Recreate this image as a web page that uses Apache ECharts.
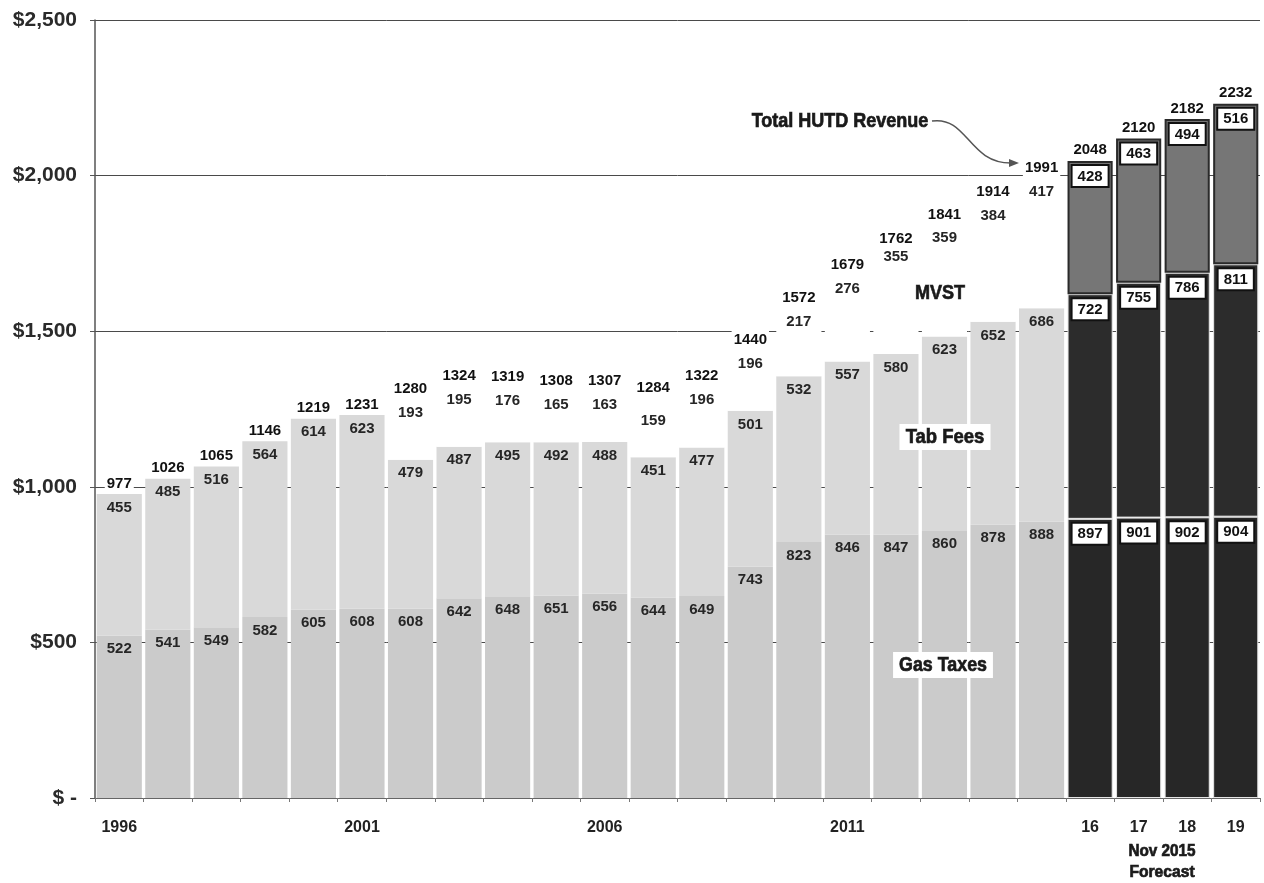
<!DOCTYPE html>
<html>
<head>
<meta charset="utf-8">
<script src="https://cdn.jsdelivr.net/npm/echarts@6/dist/echarts.min.js"></script>
<style>
  html, body { margin: 0; padding: 0; background: #fff; }
  #chart { width: 1264px; height: 883px; }
</style>
</head>
<body>
<div id="chart"></div>
<script>
// Highway User Tax Distribution revenue, $ millions (actuals 1996-2015, forecast 2016-2019)
const years = ['1996','1997','1998','1999','2000','2001','2002','2003','2004','2005','2006','2007',
               '2008','2009','2010','2011','2012','2013','2014','2015','2016','2017','2018','2019'];
const xTickLabels = ['1996','','','','','2001','','','','','2006','','','','','2011','','','','','16','17','18','19'];
const yTickLabels = ['$ -', '$500', '$1,000', '$1,500', '$2,000', '$2,500'];

const gasTaxes = [522, 541, 549, 582, 605, 608, 608, 642, 648, 651, 656, 644,
                  649, 743, 823, 846, 847, 860, 878, 888, 897, 901, 902, 904];
const tabFees  = [455, 485, 516, 564, 614, 623, 479, 487, 495, 492, 488, 451,
                  477, 501, 532, 557, 580, 623, 652, 686, 722, 755, 786, 811];
const mvst     = [null, null, null, null, null, null, 193, 195, 176, 165, 163, 159,
                  196, 196, 217, 276, 355, 359, 384, 417, 428, 463, 494, 516];
const totals   = [977, 1026, 1065, 1146, 1219, 1231, 1280, 1324, 1319, 1308, 1307, 1284,
                  1322, 1440, 1572, 1679, 1762, 1841, 1914, 1991, 2048, 2120, 2182, 2232];

const FORECAST_FROM = 20; // index of the first forecast year

const NUM_FONT = '"Liberation Sans", Arial, Helvetica, sans-serif';

const plainLabel = {
  show: true, position: 'insideTop', distance: 6,
  fontFamily: NUM_FONT, fontSize: 15, fontWeight: 'bold', color: '#262626'
};
const boxedLabel = {
  backgroundColor: '#fff', borderColor: '#111', borderWidth: 2,
  padding: [3, 5, 2, 5], color: '#111', distance: 5
};

// Build one stacked segment: historic bars in light grey, forecast bars dark with boxed labels
function segment(values, histStyle, fcStyle) {
  return values.map((v, i) => {
    if (v == null) return { value: null };
    const fc = i >= FORECAST_FROM;
    return {
      value: v,
      itemStyle: fc ? fcStyle : histStyle,
      label: fc ? boxedLabel : {}
    };
  });
}

// Heavy, horizontally condensed annotation text
function note(text, x, y, size, squeeze, boxed) {
  const style = {
    text, x: 0, y: 0, align: 'center', verticalAlign: 'middle',
    fontFamily: NUM_FONT, fontSize: size, fontWeight: 'bold',
    fill: '#1a1a1a', stroke: '#1a1a1a', lineWidth: 0.7
  };
  if (boxed) {
    style.backgroundColor = '#fff';
    style.padding = [3, 7, 2, 7];
  }
  return { type: 'text', z: 10, x, y, scaleX: squeeze, scaleY: 1, style };
}

const chart = echarts.init(document.getElementById('chart'), null, { renderer: 'canvas' });

chart.setOption({
  animation: false,
  backgroundColor: '#fff',
  grid: { left: 95, right: 4, top: 20, bottom: 85, containLabel: false },
  xAxis: {
    type: 'category',
    data: years,
    axisLine: { show: true, lineStyle: { color: '#666', width: 1 } },
    axisTick: { show: true, length: 4, lineStyle: { color: '#777' } },
    axisLabel: {
      interval: 0, margin: 22,
      formatter: (v, i) => xTickLabels[i],
      fontFamily: NUM_FONT, fontSize: 16, fontWeight: 'bold', color: '#222'
    },
    splitLine: { show: false }
  },
  yAxis: {
    type: 'value',
    min: 0, max: 2500, interval: 500,
    axisLine: { show: true, lineStyle: { color: '#555', width: 1.5 } },
    axisTick: { show: true, length: 5, lineStyle: { color: '#555' } },
    axisLabel: {
      margin: 18,
      formatter: v => yTickLabels[Math.round(v / 500)],
      fontFamily: NUM_FONT, fontSize: 21, fontWeight: 'bold', color: '#2a2a2a'
    },
    splitLine: { show: true, lineStyle: { color: '#4a4a4a', width: 1 } }
  },
  series: [
    {
      name: 'Gas Taxes', type: 'bar', stack: 'rev', barCategoryGap: '7%',
      data: segment(gasTaxes,
        { color: '#cbcbcb' },
        { color: '#272727', borderColor: '#e6e6e6', borderWidth: 1 }),
      label: plainLabel
    },
    {
      name: 'Tab Fees', type: 'bar', stack: 'rev',
      data: segment(tabFees,
        { color: '#d9d9d9' },
        { color: '#2c2c2c', borderColor: '#e6e6e6', borderWidth: 1 }),
      label: plainLabel
    },
    {
      name: 'MVST', type: 'bar', stack: 'rev',
      data: segment(mvst,
        { color: '#ffffff' },
        { color: '#767676', borderColor: '#2a2a2a', borderWidth: 2 }),
      label: plainLabel
    },
    {
      name: 'Total HUTD Revenue', type: 'scatter',
      data: totals,
      symbolSize: 2,
      itemStyle: { color: 'rgba(0,0,0,0)', opacity: 1 },
      z: 5,
      label: {
        show: true, position: 'top', distance: 1,
        fontFamily: NUM_FONT, fontSize: 15, fontWeight: 'bold', color: '#111', opacity: 1,
        backgroundColor: '#fff', padding: [1, 2]
      }
    }
  ],
  graphic: [
    note('Total HUTD Revenue', 840, 121, 20, 0.9, false),
    {
      type: 'bezierCurve', z: 10,
      shape: { x1: 932, y1: 121, cpx1: 968, cpy1: 116, cpx2: 968, cpy2: 163, x2: 1011, y2: 163 },
      style: { stroke: '#555', lineWidth: 1.5, fill: null }
    },
    {
      type: 'polygon', z: 10,
      shape: { points: [[1019, 163], [1009, 159], [1009, 167]] },
      style: { fill: '#555' }
    },
    note('MVST', 940, 293, 21, 0.86, false),
    note('Tab Fees', 945, 437, 21, 0.88, true),
    note('Gas Taxes', 943, 665, 21, 0.85, true),
    note('Nov 2015', 1162, 851, 17, 0.9, false),
    note('Forecast', 1162, 872, 17, 0.92, false)
  ]
});
</script>
</body>
</html>
